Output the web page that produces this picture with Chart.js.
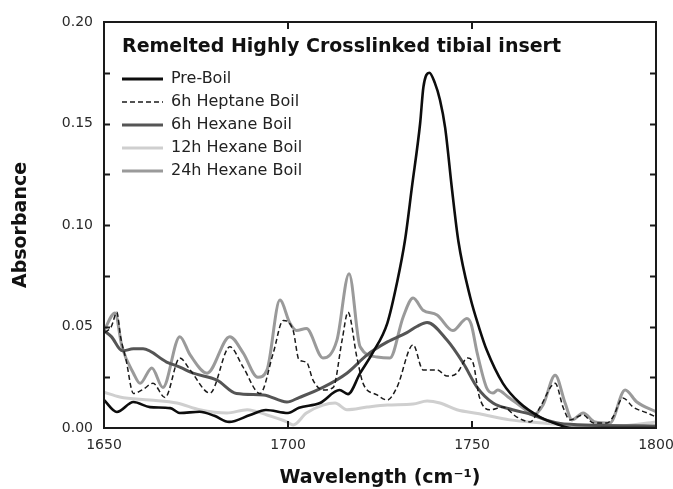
<!DOCTYPE html>
<html>
<head>
<meta charset="utf-8">
<script src="https://cdn.jsdelivr.net/npm/chart.js@4/dist/chart.umd.min.js"></script>
<style>
  html, body { margin: 0; padding: 0; background: #fff; }
  #wrap { width: 673px; height: 489px; }
</style>
</head>
<body>
<div id="wrap"><canvas id="ftir" width="673" height="489"></canvas></div>
<script>
// --- data ---
const chartTitle = 'Remelted Highly Crosslinked tibial insert';
const seriesNames = ['Pre-Boil', '6h Heptane Boil', '6h Hexane Boil', '12h Hexane Boil', '24h Hexane Boil'];

const xTicks = [1650, 1700, 1750, 1800];
const yTicks = [0, 0.05, 0.10, 0.15, 0.20];
const xTickMarks = [1700, 1750];
const yTickMarks = [0.025, 0.05, 0.075, 0.10, 0.125, 0.15, 0.175];

const preBoilX = [1650, 1653.5, 1658, 1662.5, 1668, 1670.6, 1676, 1680, 1684, 1689.7, 1694, 1700, 1703, 1708.7, 1714, 1716.3, 1719.6, 1723, 1727, 1729.6, 1731.8, 1733.7, 1735.9, 1736.8, 1738.4, 1739.9, 1741.3, 1742.7, 1744.6, 1746.3, 1749.5, 1752, 1754, 1758.4, 1763, 1768.5, 1773, 1777, 1800];
const preBoilY = [0.0138, 0.0079, 0.0128, 0.0103, 0.0098, 0.0074, 0.008, 0.006, 0.003, 0.0064, 0.0089, 0.0074, 0.0100, 0.0123, 0.0187, 0.0167, 0.027, 0.037, 0.0517, 0.0714, 0.0926, 0.119, 0.150, 0.168, 0.175, 0.170, 0.1616, 0.148, 0.117, 0.092, 0.0645, 0.049, 0.0384, 0.022, 0.0123, 0.0054, 0.002, 0, 0];

const heptane6X = [1650.3, 1652, 1653.5, 1654.5, 1656, 1658, 1660.6, 1663.3, 1666.6, 1670.6, 1673.4, 1678.8, 1684.2, 1687.8, 1692.4, 1696, 1698.7, 1701.4, 1703, 1705, 1706.8, 1709.5, 1712.3, 1714.7, 1716.3, 1718.7, 1720.4, 1724.2, 1727, 1729.6, 1734, 1736.7, 1740.5, 1743.2, 1745.9, 1748.8, 1750.3, 1752, 1754.9, 1758.4, 1762.2, 1765.8, 1768.5, 1772.6, 1774.8, 1776.6, 1780.2, 1783, 1786.7, 1788.3, 1791, 1793.8, 1797.6, 1800];
const heptane6Y = [0.047, 0.050, 0.057, 0.045, 0.0335, 0.017, 0.019, 0.022, 0.015, 0.0345, 0.0286, 0.0172, 0.040, 0.030, 0.017, 0.037, 0.053, 0.048, 0.0335, 0.0325, 0.0236, 0.0187, 0.020, 0.0433, 0.057, 0.035, 0.022, 0.0163, 0.0138, 0.020, 0.041, 0.0286, 0.0286, 0.0256, 0.027, 0.0345, 0.032, 0.0153, 0.009, 0.0103, 0.0054, 0.003, 0.0103, 0.022, 0.010, 0.004, 0.0064, 0.0025, 0.0025, 0.0054, 0.0148, 0.0103, 0.0074, 0.0054];

const hexane6X = [1650, 1652, 1655, 1658, 1660.6, 1667, 1670.6, 1674.2, 1680.7, 1686, 1693.3, 1699.7, 1703, 1709.5, 1716, 1721.5, 1727, 1732.3, 1735, 1737.8, 1743.2, 1747.6, 1751.4, 1755.7, 1761, 1766.6, 1770, 1775, 1800];
const hexane6Y = [0.048, 0.045, 0.038, 0.039, 0.039, 0.0325, 0.030, 0.027, 0.0236, 0.017, 0.0163, 0.0128, 0.0150, 0.020, 0.027, 0.036, 0.0424, 0.047, 0.050, 0.052, 0.0433, 0.032, 0.020, 0.0123, 0.009, 0.0064, 0.004, 0.002, 0.001];

const hexane12X = [1650, 1654.3, 1662.5, 1669.8, 1676, 1683.4, 1688.9, 1694.3, 1699.7, 1701.4, 1705, 1709.5, 1712.8, 1716, 1721.5, 1727, 1734, 1737.8, 1741.3, 1745.9, 1752, 1760.3, 1769.3, 1780, 1790, 1800];
const hexane12Y = [0.0177, 0.0153, 0.0138, 0.0123, 0.009, 0.0074, 0.009, 0.0064, 0.003, 0.0015, 0.0074, 0.0113, 0.0123, 0.009, 0.0103, 0.0113, 0.0118, 0.0133, 0.0123, 0.009, 0.0070, 0.004, 0.0025, 0.001, 0.001, 0.003];

const hexane24X = [1650, 1653, 1654.9, 1658, 1659.8, 1663, 1666, 1670.6, 1673.4, 1678, 1684.2, 1687.8, 1691.8, 1694.3, 1697.8, 1700.5, 1702.3, 1705, 1709.5, 1713.3, 1716.6, 1719.6, 1724.2, 1727.7, 1731.3, 1734, 1736.7, 1740.5, 1744.8, 1748.6, 1749.8, 1751.4, 1754, 1755.7, 1757, 1759.8, 1763.9, 1766.6, 1769.3, 1772.6, 1775.3, 1777.2, 1780.2, 1783.4, 1787.5, 1791.6, 1794.8, 1800];
const hexane24Y = [0.048, 0.0567, 0.040, 0.027, 0.022, 0.0296, 0.020, 0.045, 0.036, 0.027, 0.045, 0.037, 0.025, 0.0286, 0.063, 0.0517, 0.048, 0.049, 0.0345, 0.0433, 0.076, 0.040, 0.035, 0.0345, 0.0547, 0.064, 0.058, 0.0557, 0.048, 0.054, 0.051, 0.037, 0.0197, 0.0172, 0.0187, 0.0153, 0.0098, 0.0064, 0.0113, 0.026, 0.0123, 0.004, 0.0074, 0.003, 0.0025, 0.0187, 0.0128, 0.008];

const FONT = 'DejaVu Sans';

function pts(xs, ys) {
    return xs.map((x, i) => ({ x: x, y: ys[i] }));
}

function series(i, xs, ys, color, width, dash) {
    return {
        label: seriesNames[i],
        data: pts(xs, ys),
        borderColor: color,
        borderWidth: width,
        borderDash: dash || [],
        pointRadius: 0,
        fill: false,
        cubicInterpolationMode: 'monotone'
    };
}

// frame, inward ticks, inner title and legend
const decorPlugin = {
    id: 'decor',
    afterDatasetsDraw(chart) {
        const { ctx, chartArea: a, scales } = chart;
        ctx.save();
        ctx.strokeStyle = '#1a1a1a';
        ctx.lineWidth = 2;
        ctx.setLineDash([]);
        ctx.beginPath();
        yTickMarks.forEach(v => {
            const py = Math.round(scales.y.getPixelForValue(v)) + 0.5;
            ctx.moveTo(a.left, py); ctx.lineTo(a.left + 6, py);
            ctx.moveTo(a.right - 6, py); ctx.lineTo(a.right, py);
        });
        xTickMarks.forEach(v => {
            const px = Math.round(scales.x.getPixelForValue(v));
            ctx.moveTo(px, a.bottom); ctx.lineTo(px, a.bottom - 7);
            ctx.moveTo(px, a.top); ctx.lineTo(px, a.top + 7);
        });
        ctx.stroke();
        ctx.strokeRect(a.left, a.top, a.width, a.height);

        // title inside plot
        ctx.fillStyle = '#111';
        ctx.font = 'bold 19px "' + FONT + '"';
        ctx.textBaseline = 'alphabetic';
        ctx.textAlign = 'left';
        ctx.fillText(chartTitle, a.left + 18, a.top + 30);

        // legend
        ctx.font = '16px "' + FONT + '"';
        ctx.textBaseline = 'middle';
        chart.data.datasets.forEach((ds, i) => {
            const y = a.top + 57 + i * 23;
            ctx.strokeStyle = ds.borderColor;
            ctx.lineWidth = ds.borderDash.length ? 1.5 : 3;
            ctx.setLineDash(ds.borderDash);
            ctx.beginPath();
            ctx.moveTo(a.left + 18, y);
            ctx.lineTo(a.left + 59, y);
            ctx.stroke();
            ctx.setLineDash([]);
            ctx.fillStyle = '#222';
            ctx.fillText(ds.label, a.left + 67, y);
        });
        ctx.restore();
    }
};

new Chart(document.getElementById('ftir'), {
    type: 'line',
    data: {
        datasets: [
            series(0, preBoilX, preBoilY, '#0d0d0d', 2.6),
            series(1, heptane6X, heptane6Y, '#1a1a1a', 1.5, [5, 3]),
            series(2, hexane6X, hexane6Y, '#555555', 3),
            series(3, hexane12X, hexane12Y, '#cfcfcf', 3),
            series(4, hexane24X, hexane24Y, '#9a9a9a', 3)
        ]
    },
    options: {
        responsive: false,
        animation: false,
        devicePixelRatio: 1,
        layout: { padding: { top: 22, right: 17, left: 0, bottom: 0 } },
        plugins: {
            legend: { display: false },
            tooltip: { enabled: false },
            title: { display: false }
        },
        scales: {
            x: {
                type: 'linear',
                min: 1650,
                max: 1800,
                afterBuildTicks: s => { s.ticks = xTicks.map(v => ({ value: v })); },
                afterFit: s => { s.height = 61; s.paddingLeft = 0; s.paddingRight = 0; },
                grid: { display: false, drawTicks: false },
                border: { display: false },
                ticks: {
                    padding: 9,
                    color: '#2a2a2a',
                    font: { family: FONT, size: 14 },
                    maxRotation: 0,
                    callback: v => String(v)
                },
                title: {
                    display: true,
                    text: 'Wavelength (cm\u207B\u00B9)',
                    color: '#111',
                    font: { family: FONT, size: 19, weight: 'bold', lineHeight: 1 },
                    padding: { top: 4, bottom: 1 }
                }
            },
            y: {
                min: 0,
                max: 0.2,
                afterBuildTicks: s => { s.ticks = yTicks.map(v => ({ value: v })); },
                afterFit: s => { s.width = 104; s.paddingTop = 0; s.paddingBottom = 0; },
                grid: { display: false, drawTicks: false },
                border: { display: false },
                ticks: {
                    padding: 11,
                    color: '#2a2a2a',
                    font: { family: FONT, size: 14 },
                    callback: v => v.toFixed(2)
                },
                title: {
                    display: true,
                    text: 'Absorbance',
                    color: '#111',
                    font: { family: FONT, size: 19, weight: 'bold', lineHeight: 1 },
                    padding: { top: 11.5, bottom: 0 }
                }
            }
        }
    },
    plugins: [decorPlugin]
});
</script>
</body>
</html>
